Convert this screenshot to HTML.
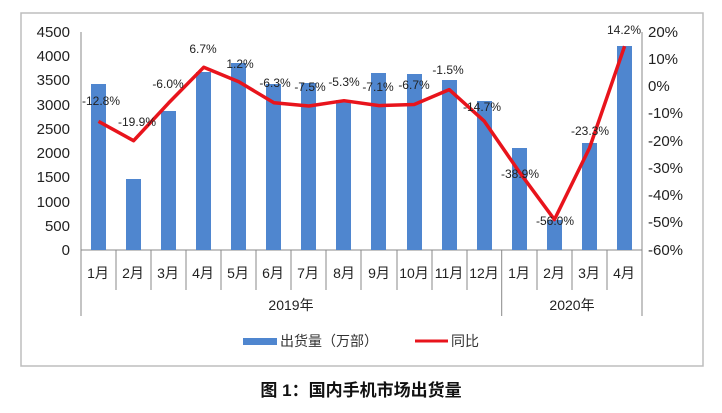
<!DOCTYPE html>
<html><head><meta charset="utf-8"><style>
body{margin:0;background:#fff;}
svg{display:block;font-family:"Liberation Sans","Noto Sans CJK SC",sans-serif;}
</style></head><body>
<svg width="722" height="413" viewBox="0 0 722 413">
<rect x="21" y="13" width="682" height="353" fill="#fff" stroke="#bdbdbd" stroke-width="1.5"/>
<g font-size="15" fill="#222" text-anchor="end">
<text x="70" y="37">4500</text><text x="70" y="61">4000</text><text x="70" y="85">3500</text>
<text x="70" y="110">3000</text><text x="70" y="134">2500</text><text x="70" y="158">2000</text>
<text x="70" y="182">1500</text><text x="70" y="207">1000</text><text x="70" y="231">500</text>
<text x="70" y="255">0</text>
</g>
<g font-size="15" fill="#222">
<text x="648" y="37">20%</text><text x="648" y="64">10%</text><text x="648" y="91">0%</text>
<text x="648" y="118">-10%</text><text x="648" y="146">-20%</text><text x="648" y="173">-30%</text>
<text x="648" y="200">-40%</text><text x="648" y="227">-50%</text><text x="648" y="255">-60%</text>
</g>
<g stroke="#888" stroke-width="1">
<line x1="81" y1="32" x2="81" y2="316"/><line x1="642" y1="32" x2="642" y2="316"/>
<line x1="81" y1="250" x2="642" y2="250"/>
<line x1="501.7" y1="250" x2="501.7" y2="316"/>
<g id="t"></g>
</g>
<g stroke="#888" stroke-width="1">
<line x1="116" y1="250" x2="116" y2="290"/><line x1="151" y1="250" x2="151" y2="290"/>
<line x1="186" y1="250" x2="186" y2="290"/><line x1="221" y1="250" x2="221" y2="290"/>
<line x1="256" y1="250" x2="256" y2="290"/><line x1="291" y1="250" x2="291" y2="290"/>
<line x1="326" y1="250" x2="326" y2="290"/><line x1="361" y1="250" x2="361" y2="290"/>
<line x1="397" y1="250" x2="397" y2="290"/><line x1="432" y1="250" x2="432" y2="290"/>
<line x1="467" y1="250" x2="467" y2="290"/><line x1="537" y1="250" x2="537" y2="290"/>
<line x1="572" y1="250" x2="572" y2="290"/><line x1="607" y1="250" x2="607" y2="290"/>
</g>
<g fill="#4f86cf">
<rect x="91" y="84" width="15" height="166"/><rect x="126" y="179" width="15" height="71"/>
<rect x="161" y="111" width="15" height="139"/><rect x="196" y="72" width="15" height="178"/>
<rect x="231" y="63" width="15" height="187"/><rect x="266" y="84" width="15" height="166"/>
<rect x="301" y="83" width="15" height="167"/><rect x="336" y="100" width="15" height="150"/>
<rect x="371" y="73" width="15" height="177"/><rect x="407" y="74" width="15" height="176"/>
<rect x="442" y="80" width="15" height="170"/><rect x="477" y="101" width="15" height="149"/>
<rect x="512" y="148" width="15" height="102"/><rect x="547" y="220" width="15" height="30"/>
<rect x="582" y="143" width="15" height="107"/><rect x="617" y="46" width="15" height="204"/>
</g>
<polyline fill="none" stroke="#e8141c" stroke-width="3.5" stroke-linejoin="round"
points="98.5,121.4 133.6,140.7 168.7,102.9 203.7,67.3 238.8,81.8 273.9,102.7 308.9,106 344,100.7 379.1,105.6 414.2,104.5 449.2,89.6 484.3,121.2 519.4,172.1 554.4,219.6 589.5,148 624.6,46.2"/>
<g font-size="12" fill="#222" text-anchor="middle">
<text x="101" y="105">-12.8%</text><text x="137" y="126">-19.9%</text>
<text x="168" y="88">-6.0%</text><text x="203" y="53">6.7%</text>
<text x="240" y="68">1.2%</text><text x="275" y="87">-6.3%</text>
<text x="310" y="91">-7.5%</text><text x="344" y="86">-5.3%</text>
<text x="378" y="91">-7.1%</text><text x="414" y="89">-6.7%</text>
<text x="448" y="74">-1.5%</text><text x="482" y="111">-14.7%</text>
<text x="520" y="178">-38.9%</text><text x="555" y="225">-56.0%</text>
<text x="590" y="135">-23.3%</text><text x="624" y="34">14.2%</text>
</g>
<g font-size="14" fill="#222" text-anchor="middle">
<text x="98" y="278">1月</text><text x="133" y="278">2月</text><text x="168" y="278">3月</text>
<text x="203" y="278">4月</text><text x="238" y="278">5月</text><text x="273" y="278">6月</text>
<text x="308" y="278">7月</text><text x="344" y="278">8月</text><text x="379" y="278">9月</text>
<text x="414" y="278">10月</text><text x="449" y="278">11月</text><text x="484" y="278">12月</text>
<text x="519" y="278">1月</text><text x="554" y="278">2月</text><text x="589" y="278">3月</text>
<text x="624" y="278">4月</text>
<text x="291" y="310">2019年</text><text x="572" y="310">2020年</text>
</g>
<rect x="243" y="338" width="34" height="7" fill="#4f86cf"/>
<text x="280" y="346" font-size="14" fill="#333">出货量（万部）</text>
<line x1="415" y1="341" x2="448" y2="341" stroke="#e8141c" stroke-width="3"/>
<text x="451" y="346" font-size="14" fill="#333">同比</text>
<text x="361" y="396" font-size="17" font-weight="bold" fill="#111" text-anchor="middle">图 1：国内手机市场出货量</text>
</svg>
</body></html>
